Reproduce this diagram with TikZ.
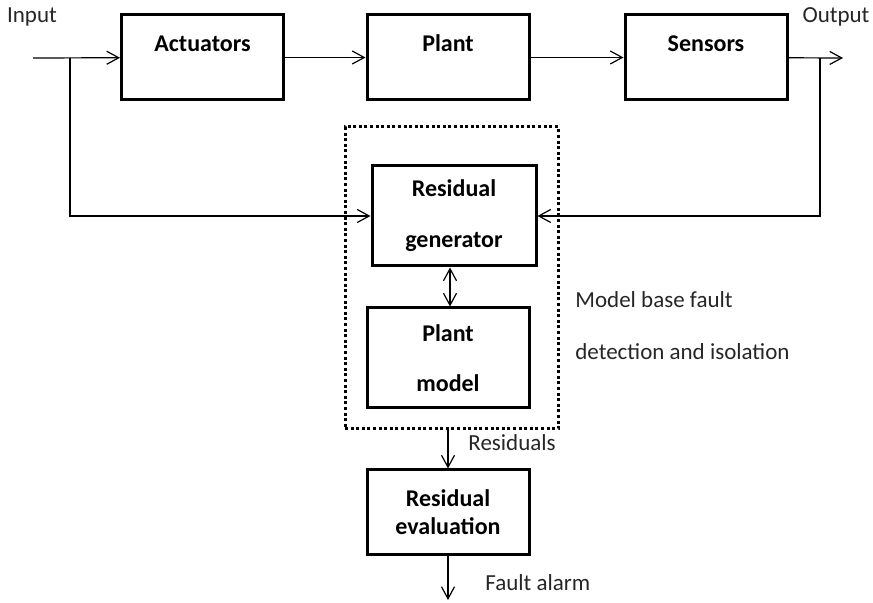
\documentclass[tikz,border=0pt]{standalone}
\usepackage{fontspec}
\setmainfont{Carlito}
\usetikzlibrary{positioning}
\usetikzlibrary{arrows.meta}
\newcommand{\figfont}{\fontsize{11.5}{14}\selectfont}
\newcommand{\boxfont}{\fontsize{12}{14}\selectfont\bfseries}
\tikzstyle{block} = [rectangle, minimum width=81pt, minimum height=42.5pt, text centered, align=center, draw=black, line width=1.5pt, font=\boxfont]
\tikzstyle{blocktop} = [block, text height=8pt, text depth=14pt]
\tikzstyle{tallblock} = [block, minimum height=50pt]
\tikzstyle{dotbox} = [rectangle, draw=black, line width=1.5pt, dash pattern=on 1.5pt off 1.3pt, minimum width=106.5pt, minimum height=151pt]
\tikzstyle{sig} = [-{Straight Barb[length=6pt,width=6.5pt]}, line width=0.6pt]
\tikzstyle{sigboth} = [{Straight Barb[length=6pt,width=6.5pt]}-{Straight Barb[length=6pt,width=6.5pt]}, line width=0.6pt]
\tikzstyle{lbl} = [font=\figfont, text=black!85, inner sep=0pt]

\begin{document}
\begin{tikzpicture}[x=0.5pt, y=-0.5pt]
			\useasboundingbox (0,0) rectangle (873,603);
			% forward path
			\node[blocktop](act) at (202.5,57.5){Actuators};
			\node[blocktop](plant) at (448,57.5){Plant};
			\node[blocktop](sens) at (706,57.5){Sensors};
			\coordinate (in) at (33,58);
			\coordinate (inbr) at (70,58);
			\coordinate (out) at (843,58);
			\coordinate (outbr) at (820,58);
			\node[lbl](inlbl) at (32,17){Input};
			\node[lbl](outlbl) at (836,17){Output};
			% fault detection part
			\node[dotbox](mbfdi) at (451.5,278){};
			\node[tallblock, minimum width=82pt](gen) at (454,216){Residual\\[11.5pt]generator};
			\node[tallblock](model) at (448,358){Plant\\[11pt]model};
			\node[lbl, anchor=west, align=left](mbfdilbl) at (575,326){Model base fault\\[12pt]detection and isolation};
			\node[block](eval) at (448,512.5){Residual\\evaluation};
			\coordinate (alarm) at (448,600);
			\node[lbl, anchor=west](reslbl) at (468,443){Residuals};
			\node[lbl, anchor=west](alarmlbl) at (485,583){Fault alarm};
			% connectors
			\draw[sig] (in) -- (act);
			\draw[sig] (act) -- (plant);
			\draw[sig] (plant) -- (sens);
			\draw[sig] (sens) -- (out);
			\draw[sig] (inbr) |- (gen.west);
			\draw[sig] (outbr) |- (gen.east);
			\draw[sigboth] (model.north -| 450,0) -- (gen.south -| 450,0);
			\draw[sig] (eval.north |- mbfdi.south) -- (eval.north);
			\draw[sig] (eval.south) -- (alarm);
		\end{tikzpicture}
\end{document}
